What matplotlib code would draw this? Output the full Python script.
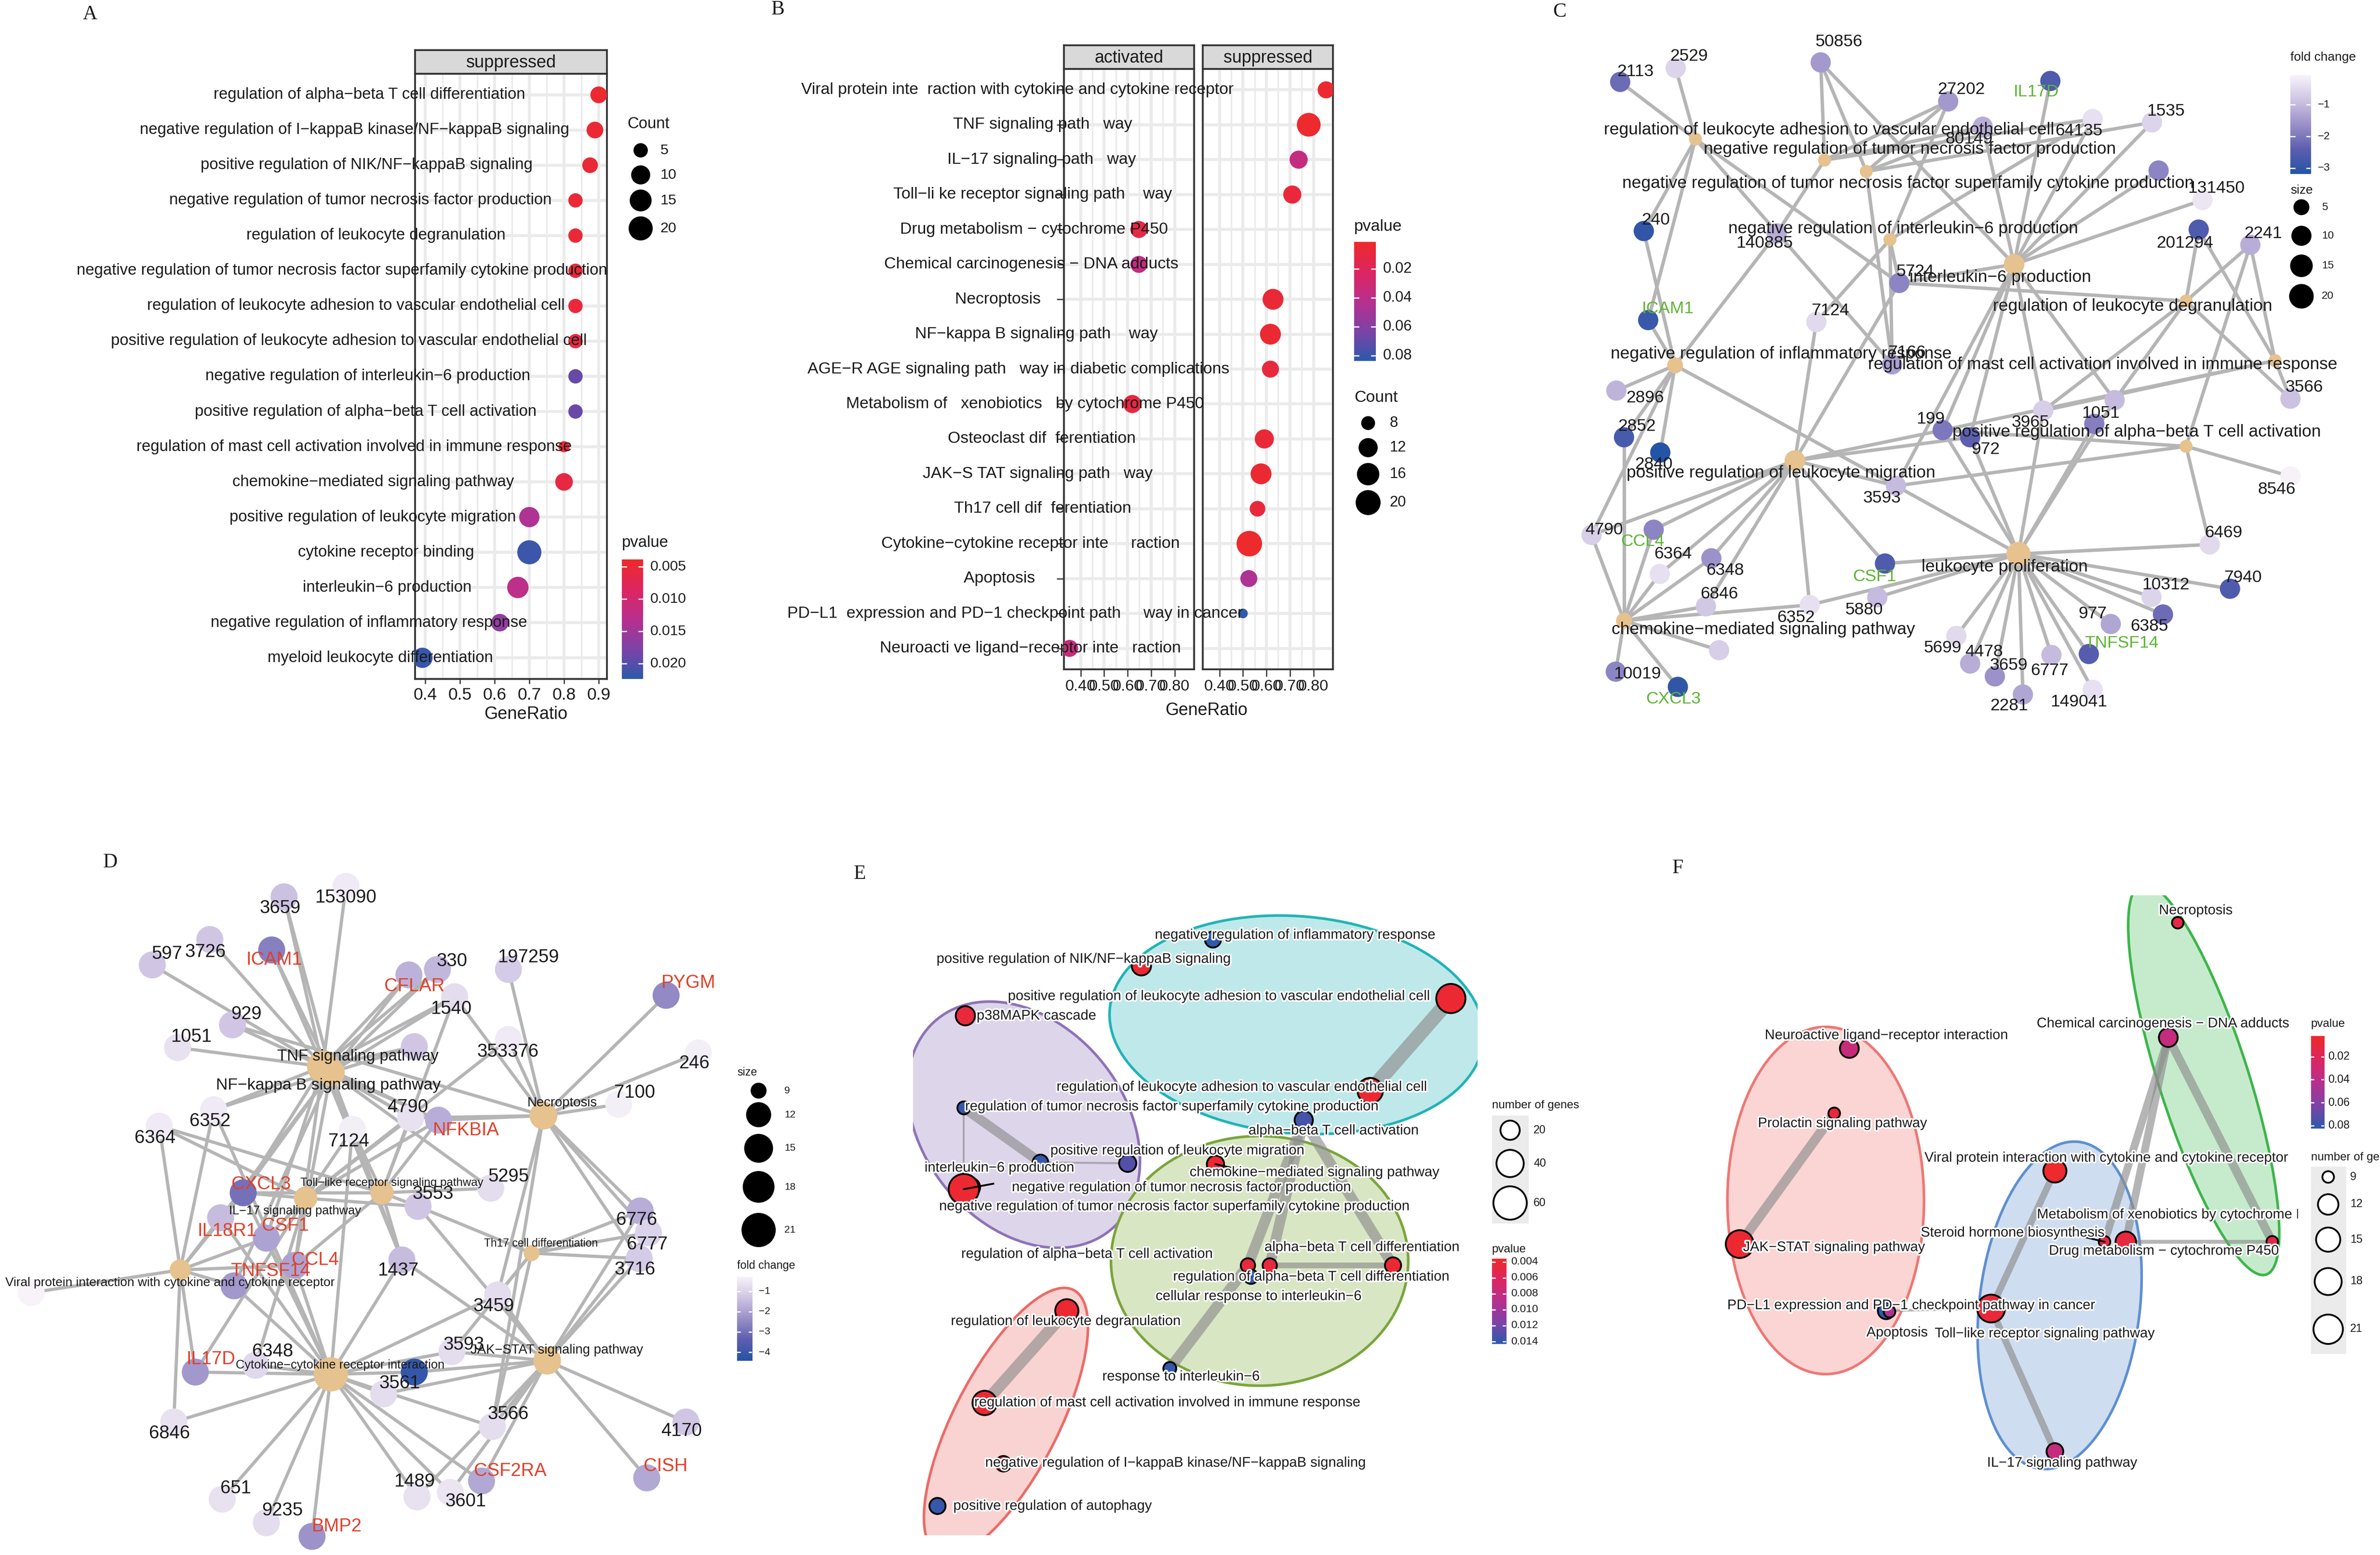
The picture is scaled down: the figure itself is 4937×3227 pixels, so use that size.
import matplotlib
matplotlib.use('Agg')
import numpy as np
import matplotlib.pyplot as plt
import matplotlib.patheffects as pe
from matplotlib import font_manager
from matplotlib.colors import LinearSegmentedColormap, Normalize
from matplotlib.patches import Ellipse, Rectangle
from matplotlib.collections import LineCollection

W, H, DPI = 4937, 3227, 300
Z = 1568.0   # layout frame of the network panels

plt.rcParams['font.family'] = ['Liberation Sans', 'DejaVu Sans']
REG = ['Liberation Sans', 'DejaVu Sans']
have = {f.name for f in font_manager.fontManager.ttflist}
if 'Liberation Sans Narrow' in have:
    NARROW = ['Liberation Sans Narrow', 'Liberation Sans', 'DejaVu Sans']
    NS = 1.2
else:
    NARROW = REG
    NS = 1.0

# ---------------- A: GO dot plot (suppressed) ----------------
a_terms = ['regulation of alpha−beta T cell differentiation',
           'negative regulation of I−kappaB kinase/NF−kappaB signaling',
           'positive regulation of NIK/NF−kappaB signaling',
           'negative regulation of tumor necrosis factor production',
           'regulation of leukocyte degranulation',
           'negative regulation of tumor necrosis factor superfamily cytokine production',
           'regulation of leukocyte adhesion to vascular endothelial cell',
           'positive regulation of leukocyte adhesion to vascular endothelial cell',
           'negative regulation of interleukin−6 production',
           'positive regulation of alpha−beta T cell activation',
           'regulation of mast cell activation involved in immune response',
           'chemokine−mediated signaling pathway',
           'positive regulation of leukocyte migration',
           'cytokine receptor binding',
           'interleukin−6 production',
           'negative regulation of inflammatory response',
           'myeloid leukocyte differentiation']
a_ratio = [0.900, 0.889, 0.875, 0.833, 0.833, 0.833, 0.833, 0.833, 0.833, 0.833,
           0.800, 0.800, 0.700, 0.700, 0.667, 0.615, 0.392]
a_count = [7, 7, 6, 5, 5, 5, 5, 5, 5, 5, 4, 8, 12, 20, 14, 8, 12]
a_pvalue = [0.0045, 0.0048, 0.0050, 0.0052, 0.0052, 0.0054, 0.0054, 0.0056, 0.0192,
            0.0190, 0.0050, 0.0060, 0.0140, 0.0215, 0.0125, 0.0162, 0.0218]

# ---------------- B: KEGG dot plot ----------------
b_terms = ['Viral protein inte  raction with cytokine and cytokine receptor',
           'TNF signaling path   way',
           'IL−17 signaling path   way',
           'Toll−li ke receptor signaling path    way',
           'Drug metabolism − cytochrome P450',
           'Chemical carcinogenesis − DNA adducts',
           'Necroptosis' + ' ' * 20,
           'NF−kappa B signaling path    way',
           'AGE−R AGE signaling path   way in diabetic complications',
           'Metabolism of   xenobiotics   by cytochrome P450',
           'Osteoclast dif  ferentiation',
           'JAK−S TAT signaling path   way',
           'Th17 cell dif  ferentiation',
           'Cytokine−cytokine receptor inte     raction',
           'Apoptosis' + ' ' * 20,
           'PD−L1  expression and PD−1 checkpoint path     way in cancer',
           'Neuroacti ve ligand−receptor inte   raction']
b_group = ['suppressed', 'suppressed', 'suppressed', 'suppressed', 'activated', 'activated',
           'suppressed', 'suppressed', 'suppressed', 'activated', 'suppressed', 'suppressed',
           'suppressed', 'suppressed', 'suppressed', 'suppressed', 'activated']
b_ratio = [0.854, 0.780, 0.737, 0.710, 0.648, 0.648, 0.628, 0.617, 0.617, 0.620,
           0.591, 0.577, 0.562, 0.527, 0.525, 0.500, 0.353]
b_count = [10, 18, 11, 11, 10, 10, 14, 14, 10, 11, 12, 14, 9, 21, 10, 7, 10]
b_pvalue = [0.004, 0.003, 0.036, 0.008, 0.012, 0.036, 0.006, 0.005, 0.009, 0.010,
            0.007, 0.005, 0.008, 0.002, 0.046, 0.083, 0.034]

# ---------------- C: GO gene-concept network ----------------
c_terms = ['regulation of leukocyte adhesion to vascular endothelial cell',
           'negative regulation of tumor necrosis factor production',
           'negative regulation of tumor necrosis factor superfamily cytokine production',
           'negative regulation of interleukin−6 production',
           'interleukin−6 production',
           'regulation of leukocyte degranulation',
           'negative regulation of inflammatory response',
           'regulation of mast cell activation involved in immune response',
           'positive regulation of alpha−beta T cell activation',
           'positive regulation of leukocyte migration',
           'leukocyte proliferation',
           'chemokine−mediated signaling pathway']
c_term_xy = [(322, 292), (557, 336), (633, 360), (676, 503), (902, 555), (1215, 632),
             (285, 767), (1377, 757), (1215, 937), (503, 967), (910, 1163), (192, 1303)]
c_term_lab = [(565, 273), (712, 313), (709, 385), (700, 480), (877, 582), (1118, 643),
              (478, 743), (1063, 765), (1125, 907), (478, 993), (885, 1190), (446, 1322)]
c_term_size = [4, 4, 4, 4, 11, 4, 5, 4, 4, 11, 19, 5]
c_genes = ['2113', '2529', '50856', '27202', 'IL17D', '80149', '64135', '1535', '6347',
           '131450', '240', '140885', '201294', '2241', '5724', 'ICAM1', '7124', '7166',
           '2896', '2852', '2840', '199', '972', '3965', '3569', '1051', '3566', '8546',
           '3593', '6469', '4790', 'CCL4', '6364', '6348', '6846', '6352', 'CSF1', '5880',
           '6347b', '10019', 'CXCL3', '5699', '4478', '3659', '2281', '6777', '149041',
           'TNFSF14', '977', '10312', '6385', '7940']
c_gene_text = [g if g not in ('6347', '3569', '6347b') else '' for g in c_genes]
c_gene_xy = [(185, 172), (286, 143), (550, 131), (782, 213), (968, 170), (845, 266),
             (1045, 250), (1153, 257), (1165, 358), (1245, 420), (228, 485), (470, 490),
             (1238, 482), (1332, 514), (693, 594), (236, 672), (542, 676), (680, 765),
             (178, 820), (192, 918), (258, 950), (772, 903), (822, 918), (955, 862),
             (1048, 890), (1085, 840), (1405, 837), (1405, 1000), (687, 1020), (1258, 1143),
             (133, 1123), (246, 1112), (257, 1205), (351, 1172), (341, 1273), (530, 1270),
             (667, 1183), (653, 1254), (365, 1365), (177, 1410), (290, 1442), (797, 1335),
             (822, 1393), (867, 1420), (918, 1458), (970, 1375), (1045, 1448), (1038, 1373),
             (1078, 1310), (1152, 1253), (1173, 1290), (1295, 1236)]
c_gene_lab = [(213, 150), (310, 118), (583, 88), (806, 188), (942, 193), (820, 292),
              (1020, 275), (1178, 233), (1165, 358), (1270, 395), (250, 462), (448, 510),
              (1213, 510), (1355, 490), (722, 570), (272, 648), (567, 652), (707, 740),
              (230, 835), (215, 895), (246, 975), (750, 880), (850, 943), (932, 887),
              (1048, 890), (1060, 867), (1430, 813), (1380, 1027), (662, 1045), (1283, 1118),
              (156, 1112), (226, 1137), (281, 1163), (376, 1197), (365, 1247), (505, 1296),
              (648, 1210), (629, 1280), (365, 1365), (216, 1415), (282, 1467), (772, 1360),
              (847, 1368), (892, 1397), (893, 1482), (967, 1408), (1020, 1473), (1098, 1350),
              (1045, 1288), (1178, 1228), (1148, 1315), (1318, 1212)]
c_gene_fc = [-2.2, -0.6, -1.5, -1.5, -2.6, -1.2, -0.4, -0.6, -1.8, -0.3, -3.0, -1.2, -2.6,
             -1.2, -1.8, -2.9, -0.5, -1.4, -1.1, -2.7, -3.6, -2.0, -2.4, -0.7, -1.9, -1.0,
             -0.9, -0.1, -1.0, -0.5, -0.7, -1.8, -0.4, -1.6, -0.8, -0.4, -2.6, -1.0, -0.7,
             -1.8, -3.0, -0.5, -1.2, -1.6, -1.3, -1.0, -0.4, -2.5, -1.3, -0.6, -2.2, -2.6]
c_named = ['IL17D', 'ICAM1', 'CCL4', 'CSF1', 'CXCL3', 'TNFSF14']
c_edges = [['2113', '2529', '240', 'ICAM1', '7166', '5724'],
           ['50856', '27202', '80149', '64135', '140885'],
           ['50856', '27202', '80149', '1535', '7166'],
           ['27202', '64135', '7124', '5724', '7166'],
           ['50856', '80149', 'IL17D', '64135', '1535', '6347', '131450', '5724', '199',
            '972', '3965', '1051', '3593'],
           ['201294', '2241', '5724', '3965', '1051', '3566'],
           ['ICAM1', '240', '2896', '2852', '2840', '4790', '3593', '140885'],
           ['201294', '2241', '3566', '3965', '199'],
           ['8546', '6469', '3593', '2241', '199'],
           ['7124', '5724', '199', '972', '4790', 'CCL4', '6364', '6348', '6846', '6352',
            'CSF1', '3593'],
           ['199', '972', '3965', '3569', '1051', '6469', '7940', '10312', '6385', '977',
            'TNFSF14', '149041', '6777', '2281', '3659', '4478', '5699', '5880', '6352',
            'CSF1', '3593'],
           ['CCL4', '6364', '6348', '6846', '6352', '10019', 'CXCL3', '6347b', '2852', '4790']]

# ---------------- D: KEGG gene-concept network ----------------
d_terms = ['TNF signaling pathway', 'NF−kappa B signaling pathway', 'Necroptosis',
           'Toll−like receptor signaling pathway', 'IL−17 signaling pathway',
           'Th17 cell differentiation',
           'Viral protein interaction with cytokine and cytokine receptor',
           'Cytokine−cytokine receptor interaction', 'JAK−STAT signaling pathway']
d_term_xy = [(600, 492), (615, 505), (1010, 600), (710, 770), (568, 782), (988, 903),
             (335, 940), (615, 1170), (1017, 1140)]
d_term_lab = [(665, 470), (610, 533), (1045, 572), (728, 748), (548, 810), (1005, 882),
              (316, 968), (632, 1150), (1035, 1117)]
d_term_size = [18, 14, 14, 11, 11, 9, 10, 21, 14]
d_genes = ['153090', '3659', '3726', '597', 'ICAM1', 'CFLAR', '330', '197259', '1540',
           'PYGM', '929', '1051', '2833', '353376', '246', '7100', '6352', '6364', '4790',
           'NFKBIA', '7124', 'CXCL3', '5295', '3553', 'IL18R1', 'CSF1', '6776', '6777',
           '3716', '1437', 'CCL4', 'TNFSF14', '6701', '3459', '3593', '1440', '3561',
           'IL17D', '6348', '6846', '3566', '4170', 'CISH', 'CSF2RA', '1489', '3601',
           '651', '9235', 'BMP2']
d_gene_text = [g if g not in ('2833', '6701', '1440') else '' for g in d_genes]
d_gene_xy = [(643, 95), (528, 118), (390, 212), (283, 268), (505, 235), (760, 290),
             (813, 278), (945, 278), (845, 338), (1238, 335), (432, 400), (330, 450),
             (770, 448), (945, 432), (1298, 462), (1150, 575), (397, 587), (296, 623),
             (763, 605), (815, 610), (655, 630), (452, 770), (912, 760), (777, 800),
             (410, 825), (495, 870), (1190, 810), (1205, 858), (1188, 915), (747, 918),
             (548, 930), (435, 975), (58, 990), (925, 995), (840, 1120), (770, 1165),
             (713, 1213), (363, 1165), (475, 1150), (323, 1275), (915, 1285), (1275, 1275),
             (1202, 1398), (895, 1405), (775, 1440), (837, 1430), (413, 1445), (495, 1497),
             (580, 1527)]
d_gene_lab = [(642, 120), (521, 143), (382, 240), (310, 244), (510, 257), (770, 315),
              (840, 260), (982, 252), (838, 365), (1280, 308), (458, 377), (355, 427),
              (770, 448), (944, 460), (1290, 485), (1180, 550), (390, 613), (288, 650),
              (758, 582), (866, 633), (648, 657), (485, 752), (945, 735), (805, 773),
              (422, 855), (530, 843), (1183, 830), (1203, 884), (1180, 940), (740, 942),
              (586, 918), (503, 943), (58, 990), (918, 1020), (862, 1105), (770, 1165),
              (743, 1190), (392, 1137), (507, 1120), (315, 1300), (945, 1258), (1267, 1295),
              (1237, 1373), (948, 1383), (770, 1407), (866, 1450), (438, 1422), (525, 1470),
              (626, 1505)]
d_gene_fc = [-0.5, -1.4, -1.3, -1.3, -2.7, -1.7, -1.6, -1.2, -0.8, -2.5, -1.3, -0.7, -1.3,
             -0.5, -0.4, -0.4, -0.5, -0.5, -0.7, -1.8, -0.4, -3.0, -0.8, -1.3, -1.5, -2.0,
             -1.8, -1.0, -1.2, -1.5, -2.0, -2.2, -0.2, -0.8, -0.8, -4.1, -0.8, -2.2, -0.9,
             -0.7, -0.8, -1.3, -1.9, -1.9, -0.7, -0.6, -0.7, -0.8, -2.3]
d_named = ['ICAM1', 'CFLAR', 'PYGM', 'NFKBIA', 'CXCL3', 'IL18R1', 'CSF1', 'CCL4',
           'TNFSF14', 'IL17D', 'CISH', 'CSF2RA', 'BMP2']
d_edges = [['153090', '3659', '3726', '597', 'ICAM1', 'CFLAR', '330', '929', '1051', '1540',
            '2833', '6352', '7124', '4790', 'NFKBIA', 'CXCL3', 'CSF1', 'CCL4', '1437', '5295'],
           ['3659', 'ICAM1', 'CFLAR', '330', '1540', '2833', '4790', 'NFKBIA', 'CXCL3', 'CCL4',
            'TNFSF14', 'IL18R1', '6352', '1437'],
           ['197259', '1540', '353376', 'PYGM', '246', '7100', 'NFKBIA', '4790', '3716', '6776',
            '6777', '3459', '3566', '929'],
           ['7124', 'CXCL3', '4790', '3553', '1437', 'CCL4', '1540', '5295', '6364', 'NFKBIA'],
           ['CXCL3', 'CSF1', 'IL17D', '6364', '7124', '4790', 'NFKBIA', '3553', '6348', '353376'],
           ['6776', '6777', '3716', '3459', '3553', '3593', '3566'],
           ['6701', 'CXCL3', 'IL18R1', 'CSF1', 'CCL4', 'TNFSF14', '6846', '6364', '6352', 'IL17D'],
           ['IL17D', '6348', '6846', '651', '9235', 'BMP2', '1489', '3601', 'CSF2RA', '3566',
            '3561', '3593', '1440', 'CCL4', 'CSF1', 'TNFSF14', 'CXCL3', 'IL18R1', '1437', '3459',
            '7124', '6352'],
           ['3593', '1440', '3561', '3566', 'CSF2RA', '1489', '3601', '4170', 'CISH', '6776',
            '6777', '3716', '3459', '3553', '1437']]

# ---------------- E: GO enrichment map ----------------
e_terms = ['negative regulation of inflammatory response',
           'positive regulation of NIK/NF−kappaB signaling',
           'positive regulation of leukocyte adhesion to vascular endothelial cell',
           'p38MAPK cascade',
           'regulation of leukocyte adhesion to vascular endothelial cell',
           'regulation of tumor necrosis factor superfamily cytokine production',
           'alpha−beta T cell activation',
           'interleukin−6 production',
           'positive regulation of leukocyte migration',
           'chemokine−mediated signaling pathway',
           'negative regulation of tumor necrosis factor production',
           'negative regulation of tumor necrosis factor superfamily cytokine production',
           'regulation of alpha−beta T cell activation',
           'alpha−beta T cell differentiation',
           'regulation of alpha−beta T cell differentiation',
           'cellular response to interleukin−6',
           'response to interleukin−6',
           'regulation of leukocyte degranulation',
           'regulation of mast cell activation involved in immune response',
           'negative regulation of I−kappaB kinase/NF−kappaB signaling',
           'positive regulation of autophagy']
e_xy = [(728, 212), (587, 270), (1197, 342), (240, 380), (1038, 545), (237, 583), (907, 610),
        (388, 703), (560, 705), (733, 707), (250, 758), (237, 762), (797, 930), (840, 930),
        (1083, 930), (803, 955), (643, 1157), (440, 1030), (278, 1233), (315, 1367), (185, 1460)]
e_lab = [(890, 202), (473, 255), (740, 337), (380, 380), (785, 537), (647, 580), (966, 633),
         (307, 715), (658, 677), (928, 725), (666, 758), (652, 800), (480, 905), (1022, 890),
         (922, 955), (818, 998), (665, 1175), (438, 1053), (638, 1232), (654, 1365), (412, 1460)]
e_count = [14, 20, 46, 20, 35, 9, 18, 13, 16, 16, 20, 50, 11, 11, 14, 11, 9, 29, 32, 13, 14]
e_pvalue = [0.0143, 0.0040, 0.0040, 0.0045, 0.0040, 0.0140, 0.0135, 0.0140, 0.0130, 0.0040,
            0.0040, 0.0040, 0.0045, 0.0045, 0.0040, 0.0140, 0.0140, 0.0040, 0.0040, 0.0045,
            0.0140]
e_links = [(2, 4, 30), (5, 7, 20), (5, 11, 4), (7, 8, 4), (6, 12, 22), (6, 13, 22),
           (6, 14, 22), (13, 14, 12), (12, 16, 22), (17, 18, 24), (15, 12, 6)]
# label leader lines: term index -> end of the segment near its label
e_leaders = [(11, (295, 750)), (9, (800, 724))]
e_clusters = [((893, 400), 740, 478, 6, '#BFE8EA', '#20B4B6'),
              ((355, 620), 580, 410, 60, '#DDD5E9', '#8E72B8'),
              ((820, 920), 586, 550, 0, '#D9E6C4', '#7AA53B'),
              ((320, 1275), 640, 210, -66, '#F9D3D1', '#EC6B67')]

# ---------------- F: KEGG enrichment map ----------------
f_terms = ['Necroptosis', 'Chemical carcinogenesis − DNA adducts',
           'Neuroactive ligand−receptor interaction', 'Prolactin signaling pathway',
           'Viral protein interaction with cytokine and cytokine receptor',
           'JAK−STAT signaling pathway', 'Steroid hormone biosynthesis',
           'Drug metabolism − cytochrome P450', 'Metabolism of xenobiotics by cytochrome P450',
           'PD−L1 expression and PD−1 checkpoint pathway in cancer', 'Apoptosis',
           'Toll−like receptor signaling pathway', 'IL−17 signaling pathway']
f_xy = [(1140, 175), (1120, 428), (445, 452), (413, 595), (880, 722), (213, 883), (985, 878),
        (1030, 878), (1340, 878), (523, 1030), (530, 1032), (745, 1025), (880, 1340)]
f_lab = [(1178, 148), (1108, 397), (523, 423), (430, 617), (988, 693), (412, 890), (790, 858),
         (1110, 898), (1150, 818), (575, 1018), (546, 1078), (858, 1080), (895, 1365)]
f_count = [9, 11, 11, 9, 14, 19, 9, 12, 9, 10, 9, 19, 10]
f_pvalue = [0.012, 0.035, 0.034, 0.010, 0.004, 0.005, 0.012, 0.010, 0.012, 0.083, 0.045,
            0.008, 0.035]
f_links = [(5, 3, 20), (4, 11, 14), (11, 12, 14), (9, 11, 5), (1, 6, 16), (1, 7, 16),
           (1, 8, 18), (7, 8, 8)]
f_leaders = [(6, (905, 858))]
f_clusters = [((395, 787), 416, 765, 0, '#FAD5D4', '#EE7774'),
              ((890, 1018), 725, 340, -83.7, '#CFDDF0', '#5E8FD0'),
              ((1195, 520), 900, 190, 73, '#C6EBCC', '#3DB54A')]

# ---------------- drawing ----------------
PV = LinearSegmentedColormap.from_list('pv', ['#EE2A2A', '#DD2660', '#B8308E', '#7E43A7', '#2D5AAA'])
FC = LinearSegmentedColormap.from_list('fc', ['#2454A6', '#5E5EB0', '#9A90C8', '#CFC5E3', '#F7F3F9'])
TAN = '#E6C28F'
INK = '#1A1A1A'

# font sizes: A is regular Arial-like, B uses a condensed face when there is one
A_FS, A_BIG = 7.9, 8.7
if NS > 1:
    B_FAM, B_FS, B_TICK, B_BIG = NARROW, 9.9, 9.4, 10.4
else:
    B_FAM, B_FS, B_TICK, B_BIG = REG, 8.1, 7.8, 8.6

fig = plt.figure(figsize=(W / DPI, H / DPI), dpi=DPI)
renderer = fig.canvas.get_renderer()


def box(x0, y0, x1, y1):
    return fig.add_axes([x0 / W, 1 - y1 / H, (x1 - x0) / W, (y1 - y0) / H])


def pt(d):
    return np.asarray(d, float) * 72 / DPI


def ftext(x, y, s, **kw):
    kw.setdefault('color', INK)
    return fig.text(x / W, 1 - y / H, s, **kw)


def area_pal(v, vmin, vmax, dmin, dmax):
    v = np.asarray(v, float)
    return dmin + (dmax - dmin) * np.sqrt(np.clip((v - vmin) / (vmax - vmin), 0, 1))


def halo(lw=1.6):
    return [pe.withStroke(linewidth=lw, foreground='white')]


overlay = box(0, 0, W, H)
overlay.set_xlim(0, W)
overlay.set_ylim(H, 0)
overlay.axis('off')
overlay.set_zorder(20)


def zmap(x0, y0, w, h):
    return lambda zx, zy: (x0 + zx * w / Z, y0 + zy * h / Z)


def cbar(x0, y0, x1, y1, cmap, top, bottom, ticks, labels, fs, lab_x, family=None):
    cax = box(x0, y0, x1, y1)
    g = np.linspace(bottom, top, 256)
    cax.imshow(g[:, None], aspect='auto', cmap=cmap, origin='lower',
               norm=Normalize(min(top, bottom), max(top, bottom)), extent=[0, 1, bottom, top])
    cax.set_xlim(0, 1)
    cax.set_ylim(bottom, top)
    cax.set_xticks([])
    cax.set_yticks([])
    for s in cax.spines.values():
        s.set_visible(False)
    for t, lab in zip(ticks, labels):
        cax.plot([0, 0.2], [t, t], color='white', lw=0.6)
        cax.plot([0.8, 1], [t, t], color='white', lw=0.6)
        yy = y0 + (t - top) / (bottom - top) * (y1 - y0)
        ftext(lab_x, yy, lab, ha='left', va='center', fontsize=fs, family=family or REG)


def dot_axes(ax, xlim, major, minor, labels, n, fs, family):
    ax.set_xlim(*xlim)
    ax.set_ylim(n - 1 + 0.6, -0.6)
    ax.set_xticks(major)
    ax.set_xticks(minor, minor=True)
    ax.set_xticklabels(labels, fontsize=fs, color=INK, family=family)
    ax.set_yticks(range(n))
    ax.set_yticklabels([])
    ax.grid(which='major', color='#EBEBEB', lw=1.5)
    ax.grid(which='minor', axis='x', color='#EBEBEB', lw=0.8)
    ax.set_axisbelow(True)
    ax.tick_params(which='major', length=2.5, width=0.6, color='#333333', pad=1.5)
    ax.tick_params(which='minor', length=0)
    for s in ax.spines.values():
        s.set_color('#333333')
        s.set_linewidth(0.9)


def strip(x0, y0, x1, y1, label, fs, family):
    s = box(x0, y0, x1, y1)
    s.set_facecolor('#D9D9D9')
    s.set_xticks([])
    s.set_yticks([])
    for sp in s.spines.values():
        sp.set_color('#333333')
        sp.set_linewidth(0.9)
    s.text(0.5, 0.45, label, ha='center', va='center', fontsize=fs, color=INK,
           transform=s.transAxes, family=family)


def ylabels(ax, labels, R, k, fs, family):
    for i, lab in enumerate(labels):
        yd = ax.transData.transform((ax.get_xlim()[0], i))[1]
        t = fig.text(0, yd / H, lab, fontsize=fs, ha='left', va='center', color=INK,
                     zorder=5, family=family)
        w = t.get_window_extent(renderer).width
        t.set_x((R - w / k) / W)


# ---- A ----
axA = box(861, 153, 1259, 1409)
dot_axes(axA, (0.3708, 0.9236), [0.4, 0.5, 0.6, 0.7, 0.8, 0.9],
         [0.45, 0.55, 0.65, 0.75, 0.85], ['0.4', '0.5', '0.6', '0.7', '0.8', '0.9'],
         len(a_terms), 8.5, REG)
normA = Normalize(0.0039, 0.0224)
axA.scatter(a_ratio, np.arange(len(a_terms)), s=pt(area_pal(a_count, 4, 20, 23, 50)) ** 2,
            c=a_pvalue, cmap=PV, norm=normA, edgecolors='none', zorder=3)
axA.tick_params(axis='y', length=0)
strip(861, 104, 1259, 153, 'suppressed', A_BIG, REG)
ylabels(axA, a_terms, 847, 1.6, A_FS, REG)
ftext(1091, 1483, 'GeneRatio', ha='center', va='center', fontsize=A_BIG)
ftext(1301, 257, 'Count', ha='left', va='center', fontsize=7.9)
for v, yy in zip([5, 10, 15, 20], [312, 363, 416, 474]):
    overlay.scatter([1329], [yy], s=pt(area_pal(v, 4, 20, 23, 50)) ** 2, c='black', edgecolors='none')
    ftext(1370, yy, str(v), ha='left', va='center', fontsize=7.3)
ftext(1290, 1127, 'pvalue', ha='left', va='center', fontsize=7.9)
cbar(1290, 1161, 1334, 1409, PV, 0.0039, 0.0224, [0.005, 0.010, 0.015, 0.020],
     ['0.005', '0.010', '0.015', '0.020'], 7.2, 1349)

# ---- B ----
normB = Normalize(0.0013, 0.0837)
for j, (grp, x0p, x1p) in enumerate([('activated', 2207, 2477), ('suppressed', 2495, 2765)]):
    ax = box(x0p, 143, x1p, 1389)
    dot_axes(ax, (0.329, 0.883), [0.4, 0.5, 0.6, 0.7, 0.8], [0.45, 0.55, 0.65, 0.75],
             ['0.40', '0.50', '0.60', '0.70', '0.80'], len(b_terms), B_TICK, B_FAM)
    ax.tick_params(which='major', length=3.5)
    sel = [i for i, g in enumerate(b_group) if g == grp]
    ax.scatter([b_ratio[i] for i in sel], sel,
               s=pt(area_pal([b_count[i] for i in sel], 7, 21, 20, 53)) ** 2,
               c=[b_pvalue[i] for i in sel], cmap=PV, norm=normB, edgecolors='none', zorder=3)
    strip(x0p, 94, x1p, 143, grp, B_BIG, B_FAM)
    if j == 0:
        ylabels(ax, b_terms, 2200, 1.667, B_FS, B_FAM)
    else:
        ax.tick_params(axis='y', length=0)
ftext(2503, 1475, 'GeneRatio', ha='center', va='center', fontsize=B_BIG, family=B_FAM)
ftext(2809, 470, 'pvalue', ha='left', va='center', fontsize=B_FS, family=B_FAM)
cbar(2809, 502, 2854, 749, PV, 0.0013, 0.0837, [0.02, 0.04, 0.06, 0.08],
     ['0.02', '0.04', '0.06', '0.08'], B_FS * 0.92, 2869, B_FAM)
ftext(2809, 825, 'Count', ha='left', va='center', fontsize=B_FS, family=B_FAM)
for v, yy in zip([8, 12, 16, 20], [878, 929, 984, 1043]):
    overlay.scatter([2838], [yy], s=pt(area_pal(v, 7, 21, 20, 53)) ** 2, c='black', edgecolors='none')
    ftext(2883, yy, str(v), ha='left', va='center', fontsize=B_FS * 0.92, family=B_FAM)


# ---- network helpers ----
def net_axes(x0, y0, w, h, zx=(0, Z), zy=(0, Z)):
    ax = box(x0 + zx[0] * w / Z, y0 + zy[0] * h / Z, x0 + zx[1] * w / Z, y0 + zy[1] * h / Z)
    ax.set_xlim(*zx)
    ax.set_ylim(zy[1], zy[0])
    ax.axis('off')
    return ax


def cnet(ax, terms, txy, tlab, tdiam, tfs, genes, gtext, gxy, glab, gfc, named, edges,
         gdiam, gfs, ncolor, norm, elw, family):
    gi = {g: i for i, g in enumerate(genes)}
    segs = [[txy[t], gxy[gi[g]]] for t, gl in enumerate(edges) for g in gl]
    ax.add_collection(LineCollection(segs, colors='#B5B5B5', linewidths=elw, zorder=1))
    gx, gy = zip(*gxy)
    ax.scatter(gx, gy, s=pt(gdiam) ** 2, c=gfc, cmap=FC, norm=norm, edgecolors='none', zorder=2)
    tx, ty = zip(*txy)
    ax.scatter(tx, ty, s=pt(tdiam) ** 2, c=TAN, edgecolors='none', zorder=3)
    for s, (lx, ly), fs in zip(terms, tlab, tfs):
        ax.text(lx, ly, s, ha='center', va='center', fontsize=fs, color=INK, zorder=4,
                family=family)
    for g, s, (lx, ly) in zip(genes, gtext, glab):
        if s:
            ax.text(lx, ly, s, ha='center', va='center', fontsize=gfs, zorder=4, family=family,
                    color=ncolor if g in named else INK)


# ---- C ----
C0 = (3150, 0, 1787, 1550)
axC = net_axes(*C0)
normC = Normalize(-3.18, -0.07)
cnet(axC, c_terms, c_term_xy, c_term_lab, area_pal(c_term_size, 4, 20, 27, 51),
     [8.5] * len(c_terms), c_genes, c_gene_text, c_gene_xy, c_gene_lab, c_gene_fc, c_named,
     c_edges, 42, 8.5, '#5DB534', normC, 1.7, REG)
zc = zmap(*C0)
x, y = zc(1405, 120)
ftext(x, y, 'fold change', ha='left', va='center', fontsize=6.3)
bx0, by0 = zc(1405, 158)
bx1, by1 = zc(1442, 365)
cbar(bx0, by0, bx1, by1, FC, -0.07, -3.18, [-1, -2, -3], ['−1', '−2', '−3'], 5.4, zc(1455, 0)[0])
x, y = zc(1405, 400)
ftext(x, y, 'size', ha='left', va='center', fontsize=6.3)
for v, zy in zip([5, 10, 15, 20], [435, 495, 558, 622]):
    px, py = zc(1425, zy)
    overlay.scatter([px], [py], s=pt(area_pal(v, 4, 20, 27, 51)) ** 2, c='black', edgecolors='none')
    ftext(zc(1462, 0)[0], py, str(v), ha='left', va='center', fontsize=5.4)

# ---- D ----
D0 = (0, 1750, 1750, 1477)
axD = net_axes(*D0)
normD = Normalize(-4.42, -0.29)
d_fs = [f * NS for f in [7.9, 8.1, 6.6, 5.8, 6.1, 5.5, 6.3, 6.1, 6.6]]
cnet(axD, d_terms, d_term_xy, d_term_lab, area_pal(d_term_size, 9, 21, 33, 71), d_fs,
     d_genes, d_gene_text, d_gene_xy, d_gene_lab, d_gene_fc, d_named, d_edges, 56,
     9.2 * NS, '#E0402A', normD, 1.6, NARROW)
zd = zmap(*D0)
x, y = zd(1370, 505)
ftext(x, y, 'size', ha='left', va='center', fontsize=5.6)
for v, zy in zip([9, 12, 15, 18, 21], [545, 598, 672, 757, 852]):
    px, py = zd(1410, zy)
    overlay.scatter([px], [py], s=pt(area_pal(v, 9, 21, 33, 71)) ** 2, c='black', edgecolors='none')
    ftext(zd(1458, 0)[0], py, str(v), ha='left', va='center', fontsize=5.0)
x, y = zd(1370, 930)
ftext(x, y, 'fold change', ha='left', va='center', fontsize=5.6)
bx0, by0 = zd(1370, 955)
bx1, by1 = zd(1398, 1140)
cbar(bx0, by0, bx1, by1, FC, -0.29, -4.42, [-1, -2, -3, -4], ['−1', '−2', '−3', '−4'], 5.0,
     zd(1410, 0)[0])


# ---- enrichment maps ----
def emap(ax, clusters, terms, xy, lab, diam, pv, norm, links, leaders, fs, clip_text):
    for c, w, h, ang, fc, ec in clusters:
        ax.add_patch(Ellipse(c, w, h, angle=ang, facecolor=fc, edgecolor=ec, lw=1.3, zorder=0))
    for a, b, lw in links:
        ax.plot([xy[a][0], xy[b][0]], [xy[a][1], xy[b][1]], color='#8E8E8E', alpha=0.65,
                lw=pt(lw), solid_capstyle='butt', zorder=1)
    for i, (ex, ey) in leaders:
        ax.plot([xy[i][0], ex], [xy[i][1], ey], color='black', lw=0.9, zorder=3)
    xs, ys = zip(*xy)
    ax.scatter(xs, ys, s=pt(diam) ** 2, c=pv, cmap=PV, norm=norm, edgecolors='black',
               linewidths=0.9, zorder=2, clip_on=False)
    for s, (lx, ly) in zip(terms, lab):
        ax.text(lx, ly, s, ha='center', va='center', fontsize=fs, color=INK, zorder=4,
                family=NARROW, path_effects=halo(), clip_on=clip_text)


# ---- E ----
E0 = (1750, 1750, 1650, 1477)
axE = net_axes(*E0, zx=(137, 1250), zy=(100, 1525))
normE = Normalize(0.0036, 0.0143)
emap(axE, e_clusters, e_terms, e_xy, e_lab, 8.94 * np.sqrt(e_count), e_pvalue, normE,
     e_links, e_leaders, 7.0 * NS, False)
ze = zmap(*E0)
x, y = ze(1278, 577)
ftext(x, y, 'number of genes', ha='left', va='center', fontsize=5.8)
rx0, ry0 = ze(1278, 600)
rx1, ry1 = ze(1350, 838)
overlay.add_patch(Rectangle((rx0, ry0), rx1 - rx0, ry1 - ry0, facecolor='#EBEBEB', edgecolor='none'))
for v, zy in zip([20, 40, 60], [632, 705, 792]):
    px, py = ze(1313, zy)
    overlay.scatter([px], [py], s=pt(8.94 * np.sqrt(v)) ** 2, facecolor='white',
                    edgecolors='black', linewidths=0.9, zorder=3)
    ftext(ze(1360, 0)[0], py, str(v), ha='left', va='center', fontsize=5.6)
x, y = ze(1278, 895)
ftext(x, y, 'pvalue', ha='left', va='center', fontsize=5.8)
bx0, by0 = ze(1278, 915)
bx1, by1 = ze(1306, 1103)
cbar(bx0, by0, bx1, by1, PV, 0.0036, 0.0143, [0.004, 0.006, 0.008, 0.010, 0.012, 0.014],
     ['0.004', '0.006', '0.008', '0.010', '0.012', '0.014'], 5.4, ze(1315, 0)[0])

# ---- F ----
F0 = (3400, 1750, 1537, 1477)
axF = net_axes(*F0, zx=(0, 1395), zy=(115, Z))
normF = Normalize(0.0022, 0.0824)
emap(axF, f_clusters, f_terms, f_xy, f_lab, area_pal(f_count, 9, 21, 24, 61), f_pvalue, normF,
     f_links, f_leaders, 6.95 * NS, True)
zf = zmap(*F0)
x, y = zf(1422, 398)
ftext(x, y, 'pvalue', ha='left', va='center', fontsize=5.8)
bx0, by0 = zf(1422, 425)
bx1, by1 = zf(1450, 628)
cbar(bx0, by0, bx1, by1, PV, 0.0022, 0.0824, [0.02, 0.04, 0.06, 0.08],
     ['0.02', '0.04', '0.06', '0.08'], 5.6, zf(1458, 0)[0])
x, y = zf(1422, 692)
ftext(x, y, 'number of genes', ha='left', va='center', fontsize=5.8)
rx0, ry0 = zf(1422, 712)
rx1, ry1 = zf(1497, 1125)
overlay.add_patch(Rectangle((rx0, ry0), rx1 - rx0, ry1 - ry0, facecolor='#EBEBEB', edgecolor='none'))
for v, zy in zip([9, 12, 15, 18, 21], [735, 795, 873, 965, 1070]):
    px, py = zf(1458, zy)
    overlay.scatter([px], [py], s=pt(area_pal(v, 9, 21, 24, 61)) ** 2, facecolor='white',
                    edgecolors='black', linewidths=0.9, zorder=3)
    ftext(zf(1505, 0)[0], py, str(v), ha='left', va='center', fontsize=5.6)

# ---- panel letters ----
for s, (x, y) in zip('ABCDEF', [(187, 30), (1614, 20), (3235, 25), (229, 1790),
                               (1784, 1814), (3480, 1802)]):
    ftext(x, y, s, ha='center', va='center', fontsize=10,
          family=['Liberation Serif', 'DejaVu Serif'])

fig.savefig('out.png', dpi=DPI, facecolor='white')
